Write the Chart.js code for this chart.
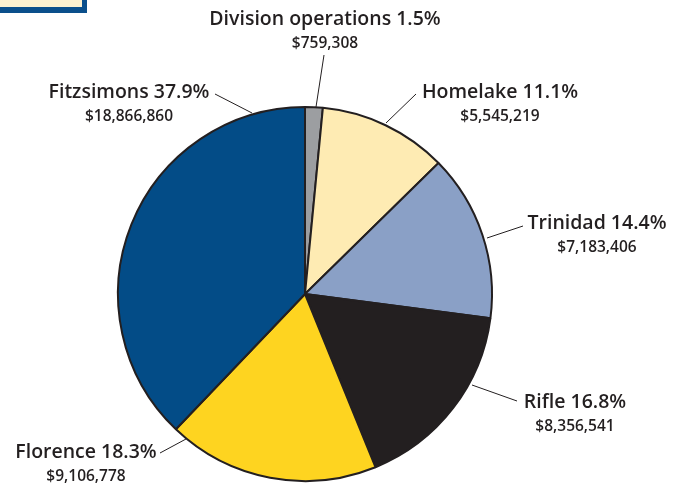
<!DOCTYPE html>
<html>
<head>
<meta charset="utf-8">
<script src="https://cdn.jsdelivr.net/npm/chart.js@4"></script>
<style>
  html, body { margin: 0; padding: 0; background: #ffffff; }
  #wrap { position: relative; width: 681px; height: 485px; overflow: hidden; }
  #frame { position: absolute; left: 0; top: 0; width: 87px; height: 13px; background: #0b4f8b; }
  #frameInner { position: absolute; left: 0; top: 0; width: 82px; height: 7px; background: #fdf1d0; }
  canvas { position: absolute; left: 0; top: 0; }
</style>
</head>
<body>
<div id="wrap">
  <canvas id="c" width="681" height="485"></canvas>
  <div id="frame"><div id="frameInner"></div></div>
</div>
<script>
// ---- data ----
const categories = ["Division operations", "Homelake", "Trinidad", "Rifle", "Florence", "Fitzsimons"];
const amounts = [759308, 5545219, 7183406, 8356541, 9106778, 18866860];
const percentLabels = ["1.5%", "11.1%", "14.4%", "16.8%", "18.3%", "37.9%"];
const amountLabels = ["$759,308", "$5,545,219", "$7,183,406", "$8,356,541", "$9,106,778", "$18,866,860"];

// ---- styles / layout ----
const sliceColors = ["#9c9ea1", "#feebb3", "#8aa0c6", "#231f20", "#fed420", "#034c87"];
// label anchor (center x, name baseline y), leader line (x1,y1 at text end -> x2,y2 at pie)
const labelLayout = [
  { x: 325, y: 25, lx1: 324, ly1: 55, lx2: 316, ly2: 107 },
  { x: 500, y: 98, lx1: 416, ly1: 94, lx2: 386, ly2: 123 },
  { x: 597, y: 229, lx1: 523, ly1: 226, lx2: 487, ly2: 238 },
  { x: 575, y: 408, lx1: 517, ly1: 401, lx2: 472, ly2: 385 },
  { x: 86, y: 458, lx1: 160, ly1: 453, lx2: 186, ly2: 439 },
  { x: 129, y: 98, lx1: 215, ly1: 94, lx2: 252, ly2: 113 }
];
const textColor = "#231f20";
const nameFont = "600 19.5px 'Open Sans'";
const valueFont = "600 15.5px 'Open Sans'";

const labelPlugin = {
  id: 'pieLabels',
  afterDraw(chart) {
    const ctx = chart.ctx;
    ctx.save();
    ctx.strokeStyle = textColor;
    ctx.lineWidth = 1;
    labelLayout.forEach((L, i) => {
      ctx.beginPath();
      ctx.moveTo(L.lx1, L.ly1);
      ctx.lineTo(L.lx2, L.ly2);
      ctx.stroke();
      ctx.fillStyle = textColor;
      ctx.textAlign = 'center';
      ctx.textBaseline = 'alphabetic';
      ctx.font = nameFont;
      ctx.fillText(categories[i] + " " + percentLabels[i], L.x, L.y);
      ctx.font = valueFont;
      ctx.fillText(amountLabels[i], L.x, L.y + 23);
    });
    ctx.restore();
  }
};

new Chart(document.getElementById('c'), {
  type: 'pie',
  data: {
    labels: categories,
    datasets: [{
      data: amounts,
      backgroundColor: sliceColors,
      borderColor: "#231f20",
      borderWidth: 2
    }]
  },
  options: {
    responsive: false,
    animation: false,
    radius: 187,
    layout: { padding: { left: 0, right: 71, top: 103, bottom: 0 } },
    plugins: { legend: { display: false }, tooltip: { enabled: false } }
  },
  plugins: [labelPlugin]
});
</script>
</body>
</html>
